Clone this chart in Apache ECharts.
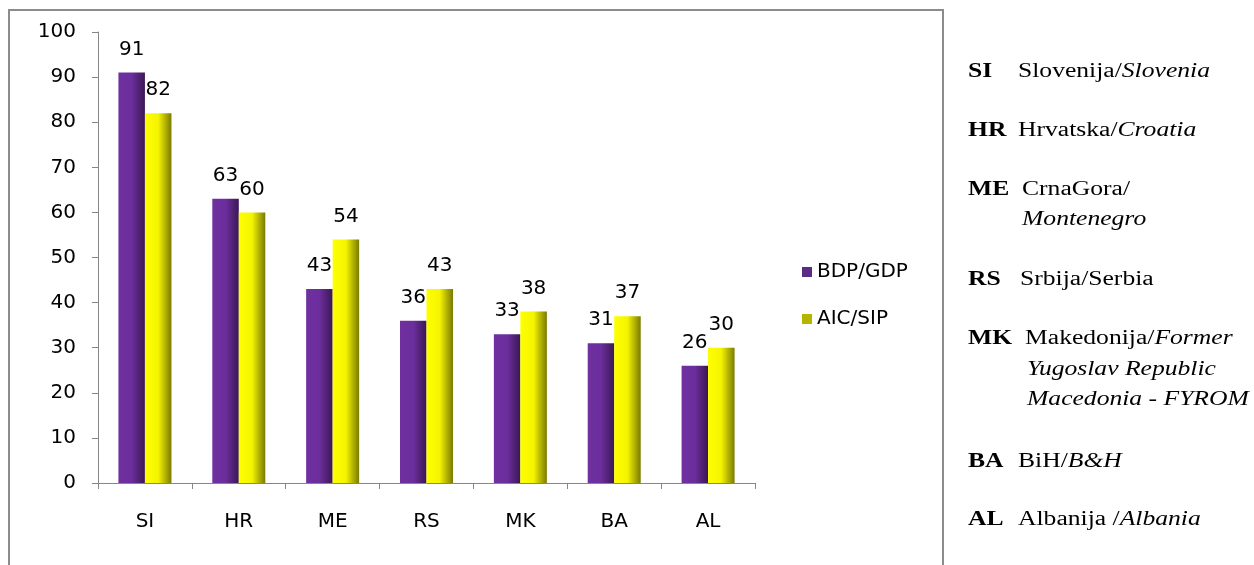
<!DOCTYPE html>
<html>
<head>
<meta charset="utf-8">
<script src="https://cdn.jsdelivr.net/npm/echarts@6/dist/echarts.min.js"></script>
<style>
html,body{margin:0;padding:0;background:#fff;}
#main{width:1254px;height:565px;}
</style>
</head>
<body>
<div id="main"></div>
<script>
var categories = ['SI','HR','ME','RS','MK','BA','AL'];
var gdpValues = [91,63,43,36,33,31,26];
var aicValues = [82,60,54,43,38,37,30];
var seriesNames = ['BDP/GDP','AIC/SIP'];
var yMin = 0, yMax = 100, yInterval = 10;

var chart = echarts.init(document.getElementById('main'), null, {renderer:'canvas'});
var FONT = 'DejaVu Sans';
var SERIF = 'Liberation Serif';

function grad(c0, c1, c2){
  return new echarts.graphic.LinearGradient(0,0,1,0,[
    {offset:0,color:c0},{offset:0.5,color:c1},{offset:1,color:c2}
  ]);
}

var labelStyle = {show:true, position:'top', distance:13, color:'#000', fontFamily:FONT, fontSize:20};

var serifRich = {
  b:{fontFamily:SERIF, fontSize:20, fontWeight:'bold', color:'#000'},
  n:{fontFamily:SERIF, fontSize:20, color:'#000'},
  i:{fontFamily:SERIF, fontSize:20, fontStyle:'italic', color:'#000'}
};
function t(x, y, str){
  return {type:'text', x:x, y:y, scaleX:1.28, scaleY:1, silent:true,
    style:{text:str, rich:serifRich, fontFamily:SERIF, fontSize:20, fill:'#000', verticalAlign:'middle', align:'left'}};
}

var option = {
  animation:false,
  backgroundColor:'#fff',
  grid:{left:98, top:32, width:657, height:451, containLabel:false},
  legend:{
    orient:'vertical', left:797, top:257, itemWidth:10, itemHeight:10, itemGap:27,
    icon:'rect',
    textStyle:{fontFamily:FONT, fontSize:20, color:'#000'},
    data:[{name:seriesNames[0], itemStyle:{color:'#5a2a86'}},{name:seriesNames[1], itemStyle:{color:'#b5b500'}}]
  },
  xAxis:{
    type:'category', data:categories,
    axisLine:{lineStyle:{color:'#868686', width:1}},
    axisTick:{show:true, length:6, alignWithLabel:false, lineStyle:{color:'#868686'}},
    axisLabel:{color:'#000', fontFamily:FONT, fontSize:20, margin:29}
  },
  yAxis:{
    type:'value', min:yMin, max:yMax, interval:yInterval,
    splitLine:{show:false},
    axisLine:{show:true, lineStyle:{color:'#868686', width:1}},
    axisTick:{show:true, length:6, lineStyle:{color:'#868686'}},
    axisLabel:{color:'#000', fontFamily:FONT, fontSize:20, margin:22}
  },
  series:[
    {name:seriesNames[0], type:'bar', data:gdpValues, barWidth:26.5, barGap:'0%',
     itemStyle:{color:grad('#7030a0','#6c2e9c','#3a1855')}, label:labelStyle},
    {name:seriesNames[1], type:'bar', data:aicValues, barWidth:26.5, barGap:'0%',
     itemStyle:{color:grad('#ffff00','#f4f400','#7a7a00')}, label:labelStyle}
  ],
  graphic:[
    {type:'rect', shape:{x:9, y:10, width:934, height:570}, style:{fill:'none', stroke:'#8c8c8c', lineWidth:2}, silent:true},
    t(968, 72, '{b|SI}'), t(1018, 72, '{n|Slovenija/}{i|Slovenia}'),
    t(968, 131, '{b|HR}'), t(1018, 131, '{n|Hrvatska/}{i|Croatia}'),
    t(968, 190, '{b|ME}'), t(1022, 190, '{n|CrnaGora/}'),
    t(1022, 220, '{i|Montenegro}'),
    t(968, 280, '{b|RS}'), t(1020, 280, '{n|Srbija/Serbia}'),
    t(968, 339, '{b|MK}'), t(1025, 339, '{n|Makedonija/}{i|Former}'),
    t(1027, 370, '{i|Yugoslav Republic}'),
    t(1027, 400, '{i|Macedonia - FYROM}'),
    t(968, 462, '{b|BA}'), t(1018, 462, '{n|BiH/}{i|B&H}'),
    t(968, 520, '{b|AL}'), t(1018, 520, '{n|Albanija /}{i|Albania}')
  ]
};
chart.setOption(option);
</script>
</body>
</html>
